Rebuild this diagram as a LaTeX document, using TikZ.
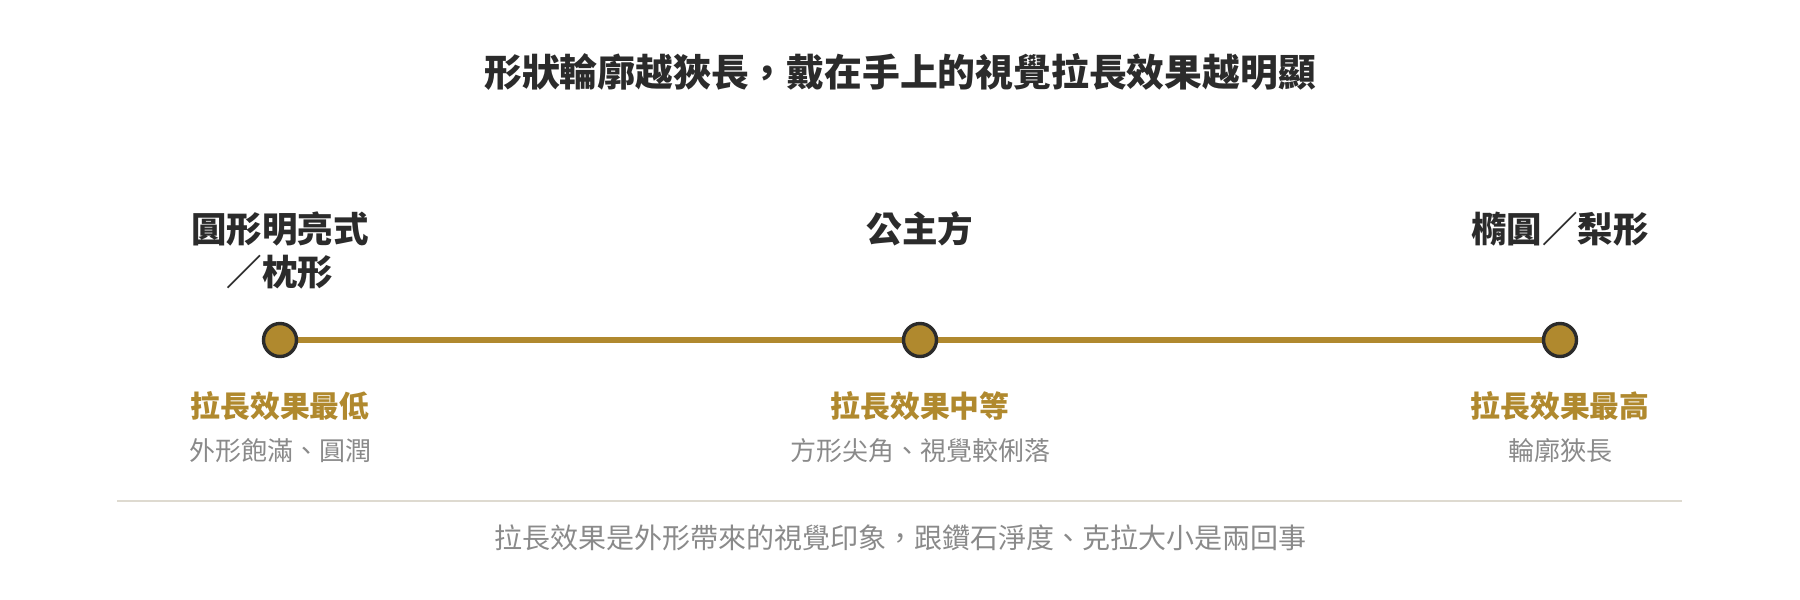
\documentclass[tikz,border=0pt]{standalone}
\usepackage{fontspec}
\setmainfont{Noto Sans CJK TC}
\usetikzlibrary{backgrounds}
\definecolor{gold}{HTML}{B0892E}
\definecolor{ink}{HTML}{2B2B2B}
\definecolor{mute}{HTML}{8A8A8A}
\definecolor{rulecol}{HTML}{DEDAD0}
\tikzset{
  dot/.style={circle, draw=ink, fill=gold, line width=3.4pt, minimum size=33pt, inner sep=0pt},
  cutname/.style={anchor=base, align=center, text=ink, font=\fontsize{35.5}{43}\selectfont\bfseries},
  effect/.style={anchor=base, text=gold, font=\fontsize{29.8}{34}\selectfont\bfseries},
  note/.style={anchor=base, text=mute, font=\fontsize{26}{30}\selectfont},
}
\begin{document}
\begin{tikzpicture}[x=1pt, y=-1pt]
    \useasboundingbox (0,0) rectangle (1800,600);

    % Draw title
    \node[anchor=base, text=ink, font=\fontsize{37.8}{42}\selectfont\bfseries] (title) at (900,86) {形狀輪廓越狹長，戴在手上的視覺拉長效果越明顯};

    % Draw nodes for the scale
    \node[dot] (low) at (280,340) {};
    \node[dot] (mid) at (920,340) {};
    \node[dot] (high) at (1560,340) {};

    % Draw shape names
    \node[cutname] (lowname) at (280,285) {圓形明亮式\\／枕形};
    \node[cutname] (midname) at (920,242) {公主方};
    \node[cutname] (highname) at (1560,242) {橢圓／梨形};

    % Draw effect labels
    \node[effect] (loweff) at (280,417) {拉長效果最低};
    \node[effect] (mideff) at (920,417) {拉長效果中等};
    \node[effect] (higheff) at (1560,417) {拉長效果最高};

    \node[note] (lownote) at (280,460) {外形飽滿、圓潤};
    \node[note] (midnote) at (920,460) {方形尖角、視覺較俐落};
    \node[note] (highnote) at (1560,460) {輪廓狹長};

    % Draw scale line (behind the dots)
    \begin{scope}[on background layer]
    \draw[gold, line width=6.4pt] (low.center) -- (mid.center);
    \draw[gold, line width=6.4pt] (mid.center) -- (high.center);
    \end{scope}

    % Draw rule and footnote
    \coordinate (ruleL) at (117,501);
    \coordinate (ruleR) at (1682,501);
    \draw[rulecol, line width=2pt] (ruleL) -- (ruleR);
    \node[anchor=base, text=mute, font=\fontsize{28}{32}\selectfont] (foot) at (900,548) {拉長效果是外形帶來的視覺印象，跟鑽石淨度、克拉大小是兩回事};
\end{tikzpicture}
\end{document}
